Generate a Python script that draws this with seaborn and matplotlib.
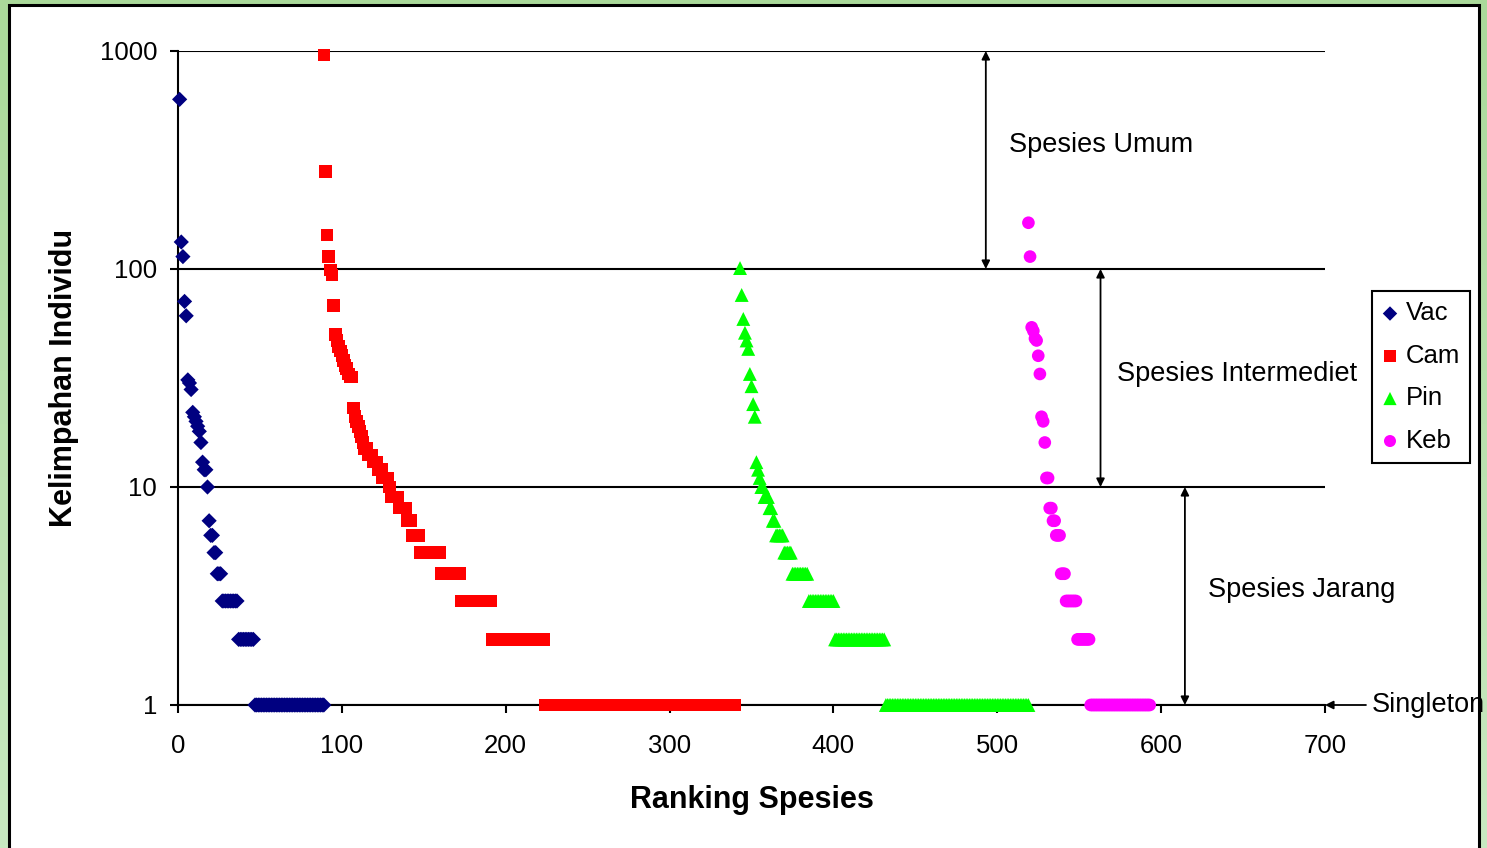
import numpy as np
import pandas as pd
import matplotlib
matplotlib.use('Agg')
import matplotlib.pyplot as plt
import seaborn as sns
from matplotlib.patches import Rectangle
from matplotlib.ticker import NullLocator

sns.set_theme(style='white')
plt.rcParams['font.family'] = ['Liberation Sans', 'DejaVu Sans']
plt.rcParams['text.color'] = 'black'
plt.rcParams['axes.labelcolor'] = 'black'

# rank-abundance data
# each series: first rank, abundances of the leading ranks, then runs of small abundances
vac_start = 1
vac_top = [600, 133, 114, 71, 61, 31, 30, 28, 22, 21, 20, 19, 18, 16, 13, 12, 12,
           10, 7, 6, 6, 5, 5, 4, 4, 4]
vac_tail_abund = [3, 2, 1]
vac_tail_count = [10, 10, 43]

cam_start = 89
cam_top = [960, 280, 143, 114, 99, 94, 68, 50, 47, 44, 42, 40, 38, 36, 35, 33, 32, 32,
           23, 21, 20, 19, 18, 17, 16, 15, 15, 14, 14, 14, 13, 13, 13, 12, 12, 12,
           11, 11, 11, 11, 10]
cam_tail_abund = [9, 8, 7, 6, 5, 4, 3, 2, 1]
cam_tail_count = [5, 5, 3, 5, 13, 12, 19, 32, 117]

pin_start = 343
pin_top = [101, 76, 59, 51, 47, 43, 33, 29, 24, 21, 13, 12, 11, 10, 10, 9, 9, 9, 8, 8, 7, 7]
pin_tail_abund = [6, 5, 4, 3, 2, 1]
pin_tail_count = [5, 5, 10, 16, 31, 88]

keb_start = 519
keb_top = [163, 114, 54, 52, 48, 47, 40, 33, 21, 20, 16, 11, 11, 8, 8, 7, 7, 6, 6, 6]
keb_tail_abund = [4, 3, 2, 1]
keb_tail_count = [3, 7, 8, 37]

y_ticks = [1, 10, 100, 1000]
x_ticks = [0, 100, 200, 300, 400, 500, 600, 700]


def make_df(start, top, tail_abund, tail_count):
    abund = list(top) + list(np.repeat(tail_abund, tail_count))
    return pd.DataFrame({'rank': start + np.arange(len(abund)), 'abund': abund})


series = [
    ('Vac', make_df(vac_start, vac_top, vac_tail_abund, vac_tail_count), 'D', '#000080', 60),
    ('Cam', make_df(cam_start, cam_top, cam_tail_abund, cam_tail_count), 's', '#ff0000', 83),
    ('Pin', make_df(pin_start, pin_top, pin_tail_abund, pin_tail_count), '^', '#00ff00', 100),
    ('Keb', make_df(keb_start, keb_top, keb_tail_abund, keb_tail_count), 'o', '#ff00ff', 83),
]

W, H = 1487, 848
fig = plt.figure(figsize=(W / 100, H / 100), dpi=100)

# green gradient background and the black framed white panel
bg = fig.add_axes([0, 0, 1, 1], zorder=-10)
grad = np.linspace(0, 1, 256).reshape(-1, 1)
bg.imshow(grad, aspect='auto', extent=[0, 1, 0, 1],
          cmap=matplotlib.colors.LinearSegmentedColormap.from_list('g', ['#aad99a', '#c8e9c1']))
bg.axis('off')
fig.add_artist(Rectangle((9 / W, -0.01), (1479 - 9) / W, 1 - 5 / H + 0.01,
                         transform=fig.transFigure, facecolor='white',
                         edgecolor='black', linewidth=2.2, zorder=-5))

ax = fig.add_axes([178 / W, 1 - 705 / H, (1325 - 178) / W, (705 - 51) / H])
ax.set_facecolor('none')

for name, d, m, c, s in series:
    sns.scatterplot(data=d, x='rank', y='abund', marker=m, s=s, color=c,
                    edgecolor='none', linewidth=0, label=name, ax=ax,
                    zorder=4, clip_on=False)

ax.set_yscale('log')
ax.set_ylim(1, 1000)
ax.set_xlim(0, 700)
ax.set_yticks(y_ticks)
ax.set_yticklabels([str(v) for v in y_ticks])
ax.yaxis.set_minor_locator(NullLocator())
ax.set_xticks(x_ticks)
ax.set_xticklabels([str(v) for v in x_ticks])

ax.yaxis.grid(True, color='black', linewidth=1.5)
ax.set_axisbelow(True)
for side in ['top', 'right']:
    ax.spines[side].set_visible(False)
for side in ['left', 'bottom']:
    ax.spines[side].set_color('black')
    ax.spines[side].set_linewidth(1.5)
ax.tick_params(axis='both', which='major', bottom=True, left=True, direction='out',
               length=6, width=1.5, color='black', labelsize=18.5, labelcolor='black')
ax.tick_params(axis='x', pad=15)
ax.tick_params(axis='y', pad=9)

ax.set_xlabel('Ranking Spesies', fontsize=22, fontweight='bold', labelpad=19)
ax.set_ylabel('Kelimpahan Individu', fontsize=22, fontweight='bold', labelpad=15)

# class boundaries with double arrows
arrow_kw = dict(arrowstyle='<|-|>', color='black', lw=1.3, mutation_scale=12,
                shrinkA=0, shrinkB=0)
ax.annotate('', xy=(493, 1000), xytext=(493, 100), arrowprops=arrow_kw, annotation_clip=False)
ax.annotate('', xy=(563, 100), xytext=(563, 10), arrowprops=arrow_kw, annotation_clip=False)
ax.annotate('', xy=(614.5, 10), xytext=(614.5, 1), arrowprops=arrow_kw, annotation_clip=False)
ax.annotate('', xy=(700, 1), xytext=(725, 1), annotation_clip=False,
            arrowprops=dict(arrowstyle='-|>', color='black', lw=1.3, mutation_scale=12,
                            shrinkA=0, shrinkB=0))

ax.text(507, 371, 'Spesies Umum', fontsize=19.5, va='center', ha='left', color='black')
ax.text(573, 33, 'Spesies Intermediet', fontsize=19.5, va='center', ha='left', color='black')
ax.text(628.5, 3.37, 'Spesies Jarang', fontsize=19.5, va='center', ha='left', color='black')
ax.text(728.5, 1, 'Singleton', fontsize=19.5, va='center', ha='left', color='black')

leg = ax.legend(loc='upper left', bbox_to_anchor=(1372 / W, 1 - 291 / H),
                bbox_transform=fig.transFigure, fontsize=18.5, frameon=True,
                fancybox=False, edgecolor='black', framealpha=1, markerscale=0.95,
                handlelength=0.6, handletextpad=0.3, labelspacing=0.72,
                borderpad=0.4, borderaxespad=0)
leg.get_frame().set_linewidth(1.5)
for t in leg.get_texts():
    t.set_color('black')

fig.savefig('out.png', dpi=100)
